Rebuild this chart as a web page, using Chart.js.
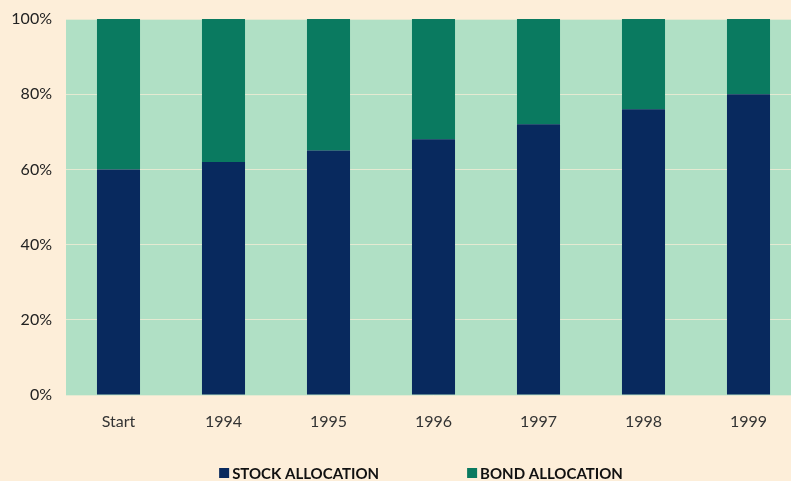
<!DOCTYPE html>
<html>
<head>
<meta charset="utf-8">
<script src="https://cdn.jsdelivr.net/npm/chart.js@4"></script>
<style>
  html, body { margin: 0; padding: 0; background: #fdeed9; overflow: hidden; }
  #wrap { width: 801px; height: 481px; }
</style>
</head>
<body>
<div id="wrap"><canvas id="allocChart" width="801" height="481"></canvas></div>
<script>
// Data
const years = ["Start", "1994", "1995", "1996", "1997", "1998", "1999"];
const stockAlloc = [60, 62, 65, 68, 72, 76, 80];
const bondAlloc = [40, 38, 35, 32, 28, 24, 20];
const yTicks = [0, 20, 40, 60, 80, 100];

const fontFamily = "Lato, 'DejaVu Sans', sans-serif";

// Plot background
const plotBg = {
    id: "plotBg",
    beforeDraw(chart) {
        const { ctx, chartArea } = chart;
        ctx.save();
        ctx.fillStyle = "#b0e0c5";
        ctx.fillRect(chartArea.left, chartArea.top, chartArea.right - chartArea.left, chartArea.bottom - chartArea.top);
        ctx.restore();
    }
};

// Legend under the axis, drawn by hand so it does not eat plot height
const bottomLegend = {
    id: "bottomLegend",
    afterDraw(chart) {
        const { ctx } = chart;
        const y = 473;
        const gap = 88;
        ctx.save();
        ctx.font = "bold 15px " + fontFamily;
        ctx.textBaseline = "middle";
        const items = chart.data.datasets.map(ds => ({
            label: ds.label,
            color: ds.backgroundColor,
            w: 13 + ctx.measureText(ds.label).width
        }));
        const total = items.reduce((s, it) => s + it.w, 0) + gap * (items.length - 1);
        let x = 421 - total / 2;
        items.forEach(it => {
            ctx.fillStyle = it.color;
            ctx.fillRect(x, y - 5, 10, 10);
            ctx.fillStyle = "#111";
            ctx.fillText(it.label, x + 13, y + 1);
            x += it.w + gap;
        });
        ctx.restore();
    }
};

new Chart(document.getElementById("allocChart"), {
    type: "bar",
    data: {
        labels: years,
        datasets: [
            {
                label: "STOCK ALLOCATION",
                data: stockAlloc,
                backgroundColor: "#08295e",
                categoryPercentage: 1,
                barPercentage: 0.41
            },
            {
                label: "BOND ALLOCATION",
                data: bondAlloc,
                backgroundColor: "#0a7a60",
                categoryPercentage: 1,
                barPercentage: 0.41
            }
        ]
    },
    options: {
        responsive: false,
        animation: false,
        layout: { padding: { top: 19, right: 0, left: 0, bottom: 0 } },
        plugins: {
            tooltip: { enabled: false },
            legend: { display: false }
        },
        scales: {
            x: {
                stacked: true,
                grid: { display: false },
                border: { display: false },
                afterFit(axis) { axis.height = 86; },
                ticks: {
                    color: "#333",
                    padding: 9,
                    font: { family: fontFamily, size: 16 }
                }
            },
            y: {
                stacked: true,
                min: 0,
                max: 100,
                afterBuildTicks(axis) {
                    axis.ticks = yTicks.map(v => ({ value: v }));
                },
                afterFit(axis) {
                    axis.width = 66;
                    axis.paddingTop = 0;
                    axis.paddingBottom = 0;
                },
                grid: { color: "#e4ead2", lineWidth: 1, drawTicks: false },
                border: { display: false },
                ticks: {
                    color: "#222",
                    padding: 14,
                    font: { family: fontFamily, size: 16 },
                    callback: v => v + "%"
                }
            }
        }
    },
    plugins: [plotBg, bottomLegend]
});
</script>
</body>
</html>
